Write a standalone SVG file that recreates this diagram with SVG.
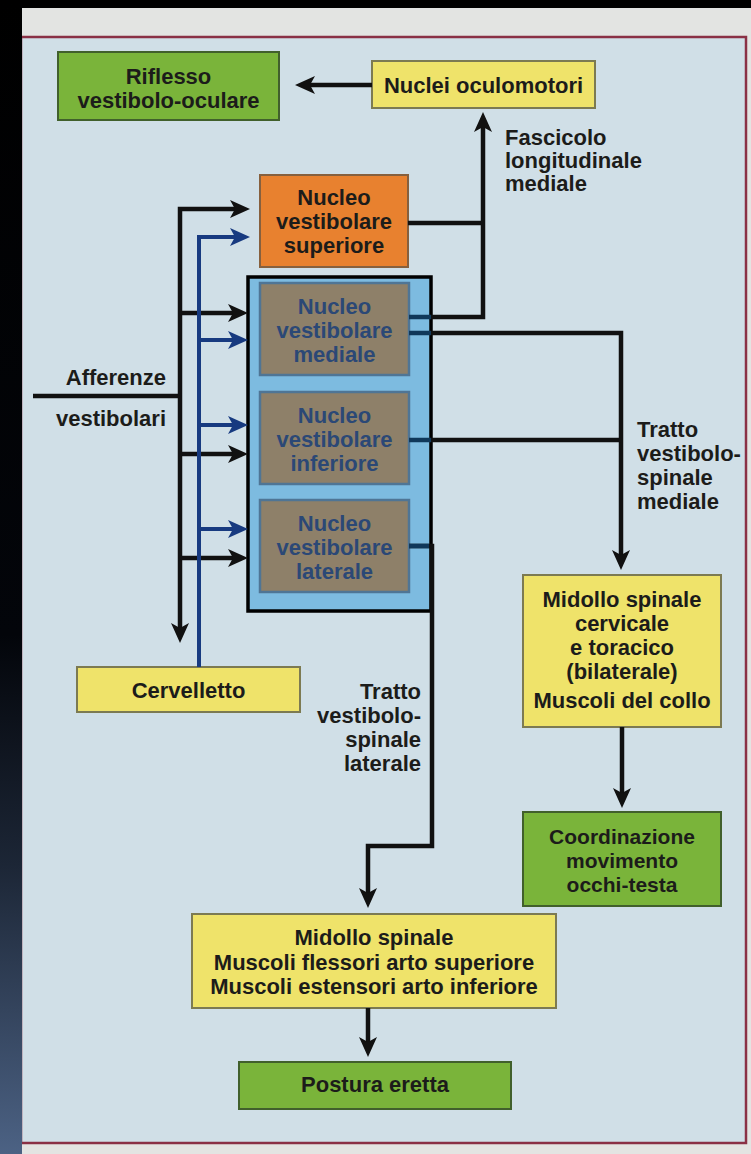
<svg xmlns="http://www.w3.org/2000/svg" width="751" height="1154" viewBox="0 0 751 1154">
<defs>
<style>
.t{font-family:"Liberation Sans",Arial,Helvetica,sans-serif;font-weight:bold;font-size:22px;fill:#1c1c1a;text-anchor:middle}
.nb{fill:#2b4876}
.l{text-anchor:start}
.r{text-anchor:end}
.green{fill:#7ab43a;stroke:#41602c;stroke-width:2}
.yellow{fill:#efe36a;stroke:#7c7a52;stroke-width:2}
.orange{fill:#e8812f;stroke:#86603e;stroke-width:2}
.brown{fill:#8e8069;stroke:#4f7595;stroke-width:2.5}
.k{fill:none;stroke:#111;stroke-width:4.5;stroke-linejoin:miter}
.b{fill:none;stroke:#173a80;stroke-width:4}
.in{fill:none;stroke:#10385a;stroke-width:4.5}
</style>
<marker id="ak" markerUnits="userSpaceOnUse" markerWidth="24" markerHeight="24" viewBox="-12 -12 24 24" refX="0" refY="0" orient="auto-start-reverse">
<path d="M10,0 L-10,-9 L-5,0 L-10,9 Z" fill="#111"/>
</marker>
<marker id="ab" markerUnits="userSpaceOnUse" markerWidth="24" markerHeight="24" viewBox="-12 -12 24 24" refX="0" refY="0" orient="auto-start-reverse">
<path d="M10,0 L-10,-9 L-5,0 L-10,9 Z" fill="#173a80"/>
</marker>
<linearGradient id="strip" x1="0" y1="0" x2="0" y2="1">
<stop offset="0" stop-color="#000"/>
<stop offset="0.55" stop-color="#03050a"/>
<stop offset="0.75" stop-color="#1c2636"/>
<stop offset="1" stop-color="#4c6284"/>
</linearGradient>
</defs>

<g id="background">
<rect x="0" y="0" width="751" height="1154" fill="#e3e4e2"/>
<rect x="0" y="0" width="751" height="8" fill="#000"/>
<rect x="21" y="37" width="725" height="1106" fill="#d0dfe7" stroke="#8a3045" stroke-width="2.5"/>
<rect x="0" y="0" width="22" height="1154" fill="url(#strip)"/>
</g>

<g id="node-riflesso">
<rect class="green" x="58" y="52" width="221" height="68"/>
<text class="t" x="168.5" y="84">Riflesso</text>
<text class="t" x="168.5" y="108">vestibolo-oculare</text>
</g>

<g id="node-nuclei-oculomotori">
<rect class="yellow" x="372" y="61" width="223" height="47"/>
<text class="t" x="483.5" y="93">Nuclei oculomotori</text>
</g>

<g id="node-superiore">
<rect class="orange" x="260" y="175" width="148" height="92"/>
<text class="t" x="334" y="205">Nucleo</text>
<text class="t" x="334" y="229">vestibolare</text>
<text class="t" x="334" y="253">superiore</text>
</g>

<g id="node-gruppo-nuclei">
<rect x="248" y="277" width="183" height="334" fill="#7dbbe0" stroke="#000" stroke-width="3.5"/>
</g>

<g id="node-mediale">
<rect class="brown" x="260" y="283" width="149" height="92"/>
<text class="t nb" x="334.5" y="314">Nucleo</text>
<text class="t nb" x="334.5" y="338">vestibolare</text>
<text class="t nb" x="334.5" y="362">mediale</text>
</g>

<g id="node-inferiore">
<rect class="brown" x="260" y="392" width="149" height="92"/>
<text class="t nb" x="334.5" y="423">Nucleo</text>
<text class="t nb" x="334.5" y="447">vestibolare</text>
<text class="t nb" x="334.5" y="471">inferiore</text>
</g>

<g id="node-laterale">
<rect class="brown" x="260" y="500" width="149" height="92"/>
<text class="t nb" x="334.5" y="531">Nucleo</text>
<text class="t nb" x="334.5" y="555">vestibolare</text>
<text class="t nb" x="334.5" y="579">laterale</text>
</g>

<g id="node-cervelletto">
<rect class="yellow" x="77" y="667" width="223" height="45"/>
<text class="t" x="188.5" y="698">Cervelletto</text>
</g>

<g id="node-midollo-cervicale">
<rect class="yellow" x="523" y="575" width="198" height="152"/>
<text class="t" x="622" y="607">Midollo spinale</text>
<text class="t" x="622" y="631">cervicale</text>
<text class="t" x="622" y="655">e toracico</text>
<text class="t" x="622" y="679">(bilaterale)</text>
<text class="t" x="622" y="708">Muscoli del collo</text>
</g>

<g id="node-coordinazione">
<rect class="green" x="523" y="812" width="198" height="94"/>
<text class="t" x="622" y="844" style="font-size:21px">Coordinazione</text>
<text class="t" x="622" y="868" style="font-size:21px">movimento</text>
<text class="t" x="622" y="892" style="font-size:21px">occhi-testa</text>
</g>

<g id="node-midollo-spinale">
<rect class="yellow" x="192" y="914" width="364" height="94"/>
<text class="t" x="374" y="945">Midollo spinale</text>
<text class="t" x="374" y="970">Muscoli flessori arto superiore</text>
<text class="t" x="374" y="994">Muscoli estensori arto inferiore</text>
</g>

<g id="node-postura">
<rect class="green" x="239" y="1062" width="272" height="47"/>
<text class="t" x="375" y="1092">Postura eretta</text>
</g>

<g id="labels">
<text class="t r" x="166" y="385">Afferenze</text>
<text class="t r" x="166" y="426">vestibolari</text>
<text class="t l" x="505" y="145">Fascicolo</text>
<text class="t l" x="505" y="168">longitudinale</text>
<text class="t l" x="505" y="191">mediale</text>
<text class="t l" x="637" y="437">Tratto</text>
<text class="t l" x="637" y="461">vestibolo-</text>
<text class="t l" x="637" y="485">spinale</text>
<text class="t l" x="637" y="509">mediale</text>
<text class="t r" x="421" y="699">Tratto</text>
<text class="t r" x="421" y="723">vestibolo-</text>
<text class="t r" x="421" y="747">spinale</text>
<text class="t r" x="421" y="771">laterale</text>
</g>

<g id="connectors">
<path class="k" d="M33,396 H180"/>
<path class="k" d="M240,209 H180 V633" marker-start="url(#ak)" marker-end="url(#ak)"/>
<path class="k" d="M180,313 H238" marker-end="url(#ak)"/>
<path class="k" d="M180,454 H238" marker-end="url(#ak)"/>
<path class="k" d="M180,558 H238" marker-end="url(#ak)"/>
<path class="b" d="M240,237 H199 V667" marker-start="url(#ab)"/>
<path class="b" d="M199,340 H238" marker-end="url(#ab)"/>
<path class="b" d="M199,425 H238" marker-end="url(#ab)"/>
<path class="b" d="M199,529 H238" marker-end="url(#ab)"/>
<path class="k" d="M372,85 H305" marker-end="url(#ak)"/>
<path class="k" d="M408,223 H483"/>
<path class="k" d="M431,317 H483 V122" marker-end="url(#ak)"/>
<path class="k" d="M431,333 H621 V560" marker-end="url(#ak)"/>
<path class="k" d="M431,440 H621"/>
<path class="k" d="M409,546 H432 V846 H368 V898" marker-end="url(#ak)"/>
<path class="in" d="M409,317 H431 M409,333 H431 M409,440 H431 M409,546 H429"/>
<path class="k" d="M622,727 V798" marker-end="url(#ak)"/>
<path class="k" d="M368,1008 V1047" marker-end="url(#ak)"/>
</g>
</svg>
